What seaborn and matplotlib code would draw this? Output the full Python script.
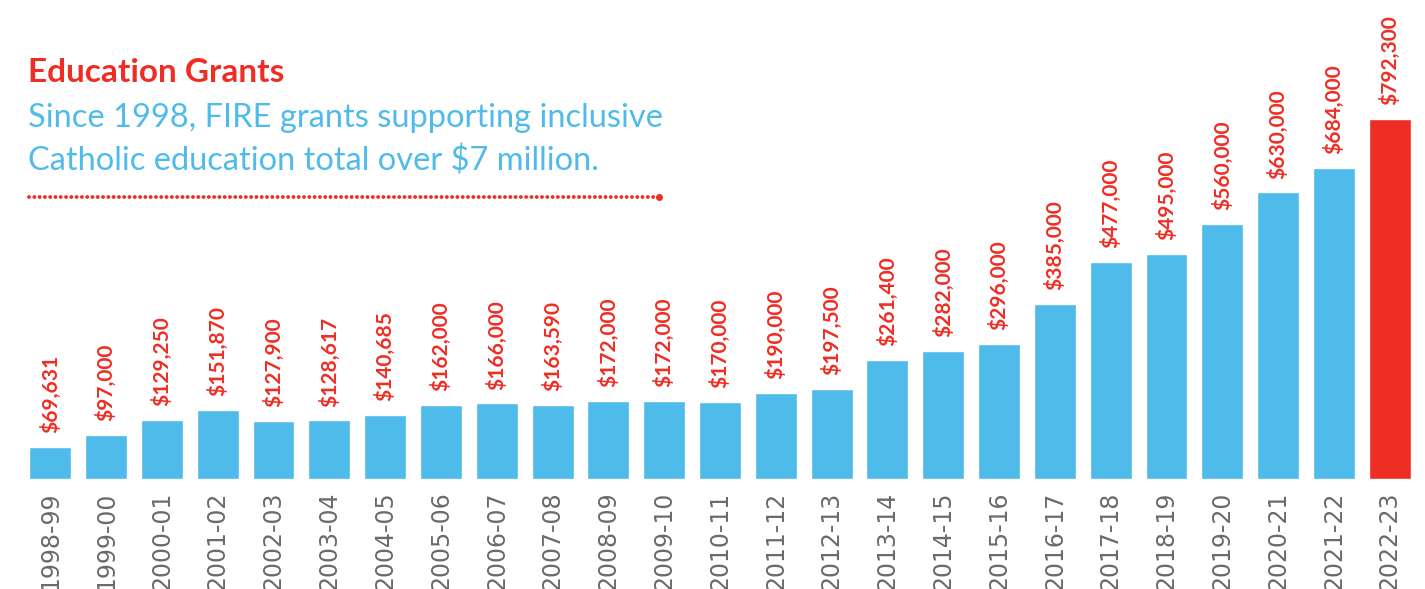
import pandas as pd
import seaborn as sns
import matplotlib.pyplot as plt
from matplotlib.lines import Line2D

years = ['1998-99', '1999-00', '2000-01', '2001-02', '2002-03', '2003-04', '2004-05',
         '2005-06', '2006-07', '2007-08', '2008-09', '2009-10', '2010-11', '2011-12',
         '2012-13', '2013-14', '2014-15', '2015-16', '2016-17', '2017-18', '2018-19',
         '2019-20', '2020-21', '2021-22', '2022-23']
grants = [69631, 97000, 129250, 151870, 127900, 128617, 140685, 162000, 166000,
          163590, 172000, 172000, 170000, 190000, 197500, 261400, 282000, 296000,
          385000, 477000, 495000, 560000, 630000, 684000, 792300]
current = ['no'] * (len(years) - 1) + ['yes']

blue = '#4FBBEA'
red = '#EE2E24'

df = pd.DataFrame({'year': years, 'grant': grants, 'current': current})

sns.set_style('white')
plt.rcParams['font.family'] = ['Lato', 'DejaVu Sans']

fig = plt.figure(figsize=(14.25, 5.89), dpi=100)
ax = fig.add_axes([28 / 1425, 110 / 589, 1384 / 1425, 479 / 589])

sns.barplot(ax=ax, data=df, x='year', y='grant', hue='current',
            palette={'no': blue, 'yes': red}, dodge=False, legend=False,
            width=0.75, saturation=1)

for i, v in enumerate(grants):
    ax.annotate(f'${v:,}', (i, v), xytext=(0, 10), textcoords='offset points',
                rotation=90, ha='center', va='bottom', color=red,
                fontsize=15, fontweight='bold')

ax.set_ylim(0, 1053000)
ax.set_xlim(-0.4, len(years) - 0.6)
ax.set_xlabel('')
ax.set_ylabel('')
ax.set_yticks([])
sns.despine(ax=ax, left=True, bottom=True)
ax.tick_params(axis='x', length=0, pad=9)
for lbl in ax.get_xticklabels():
    lbl.set_rotation(90)
    lbl.set_va('top')
    lbl.set_color('#6a6a6a')
    lbl.set_fontsize(17)
    lbl.set_family('DejaVu Sans')

fig.text(28 / 1425, 1 - 82 / 589, 'Education Grants', color=red,
         fontsize=24, fontweight='bold', va='baseline')
fig.text(28 / 1425, 1 - 127 / 589, 'Since 1998, FIRE grants supporting inclusive',
         color=blue, fontsize=23.5, va='baseline')
fig.text(28 / 1425, 1 - 171 / 589, 'Catholic education total over $7 million.',
         color=blue, fontsize=23.5, va='baseline')

y_dot = 1 - 197 / 589
fig.add_artist(Line2D([29 / 1425, 655 / 1425], [y_dot, y_dot], color=red,
                      linewidth=2.8, linestyle=(0, (0.01, 1.35)),
                      dash_capstyle='round'))
fig.add_artist(Line2D([659 / 1425], [y_dot], color=red, marker='o',
                      markersize=4, linestyle='none'))

fig.savefig('out.png', dpi=100)
